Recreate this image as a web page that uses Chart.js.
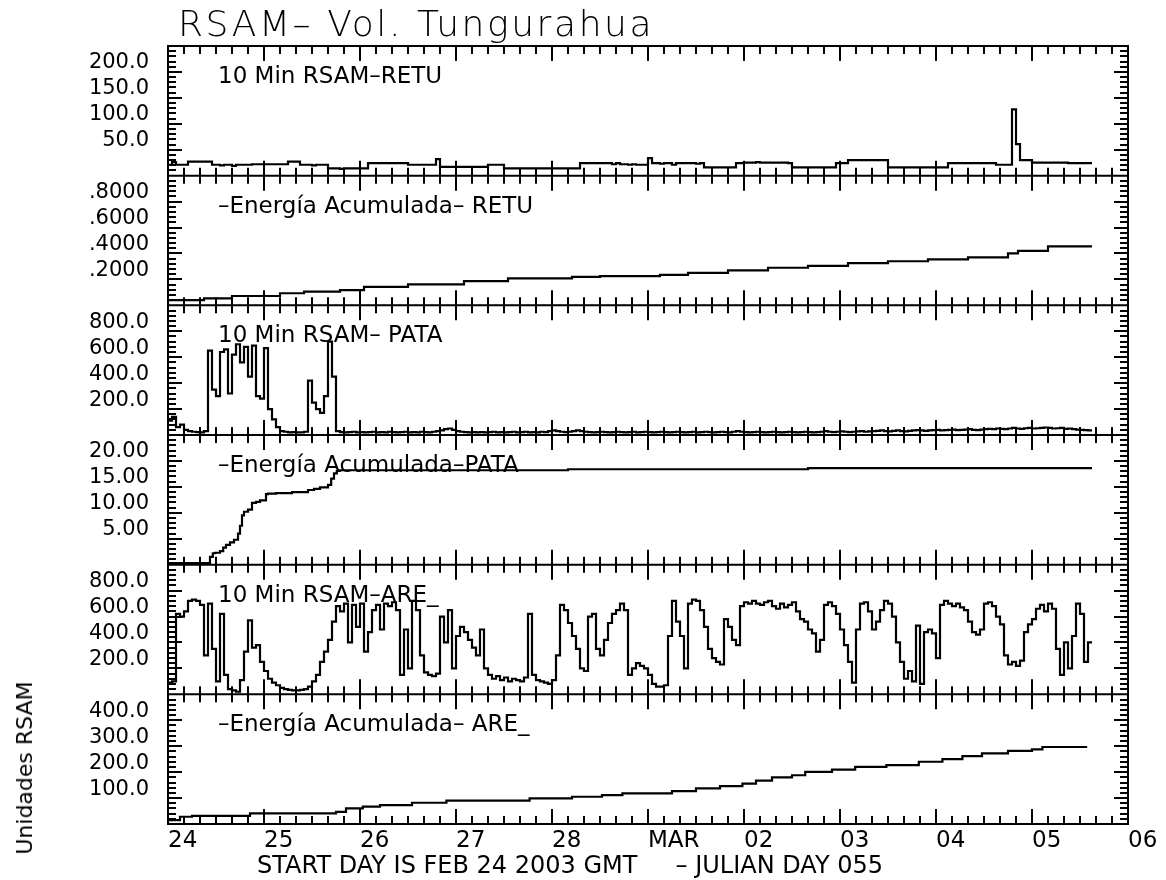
<!DOCTYPE html>
<html>
<head>
<meta charset="utf-8">
<title>RSAM - Vol. Tungurahua</title>
<script src="https://cdn.jsdelivr.net/npm/chart.js@4.4.1/dist/chart.umd.min.js"></script>
<style>
  html, body { margin: 0; padding: 0; background: #fff; }
  #wrap { position: relative; width: 1166px; height: 880px; overflow: hidden; }
  #rsam { position: absolute; left: 0; top: 0; }
  .txt { position: absolute; font-family: "DejaVu Sans", sans-serif; color: #000; white-space: pre; line-height: 1; }
</style>
</head>
<body>
<div id="wrap">
  <canvas id="rsam" width="1166" height="880"></canvas>
  <div class="txt" style="left:178px;top:6px;font-size:36px;letter-spacing:2.6px;font-weight:200">RSAM– Vol. Tungurahua</div>
  <div class="txt" style="left:257px;top:853px;font-size:24px">START DAY IS FEB 24 2003 GMT     – JULIAN DAY 055</div>
  <div class="txt" style="left:25px;top:768px;font-size:22px;transform:translate(-50%,-50%) rotate(-90deg)">Unidades RSAM</div>
</div>
<script>
// x axis: hours since Feb 24 2003 00:00 GMT, labels every 24 h
const dayLabels = ["24", "25", "26", "27", "28", "MAR", "02", "03", "04", "05", "06"];

// panels, top to bottom
const panelIds = ["y1", "y2", "y3", "y4", "y5", "y6"];
const panelLabels = [
  "10 Min RSAM–RETU",
  "–Energía Acumulada– RETU",
  "10 Min RSAM– PATA",
  "–Energía Acumulada–PATA",
  "10 Min RSAM–ARE_",
  "–Energía Acumulada– ARE_"
];
const yMax = [250, 1, 1000, 25, 1000, 500];
const yStep = [50, 0.2, 200, 5, 200, 100];
const yMinor = [10, 0.04, 40, 1, 40, 20];
const yDigits = [1, 4, 1, 2, 1, 1];

// 10 min RSAM, one value per hour from hour 0
const retuRsam = [
  21, 21, 26, 21, 21, 21, 27, 27, 27, 27,
  27, 27, 21, 21, 20, 21, 21, 19, 21, 21,
  21, 21, 22, 22, 22, 22, 22, 22, 22, 22,
  22, 27, 27, 27, 21, 21, 21, 20, 21, 21,
  21, 14, 14, 14, 13, 14, 14, 14, 14, 14,
  14, 24, 24, 24, 24, 24, 24, 24, 24, 24,
  24, 21, 21, 21, 21, 21, 21, 21, 32, 17,
  17, 17, 17, 17, 17, 17, 17, 17, 17, 17,
  17, 21, 21, 21, 21, 14, 14, 14, 14, 14,
  14, 14, 14, 14, 14, 14, 14, 14, 14, 14,
  14, 14, 14, 14, 24, 24, 24, 24, 24, 24,
  24, 24, 22, 24, 22, 22, 21, 22, 21, 21,
  21, 34, 24, 24, 23, 24, 24, 21, 24, 24,
  24, 24, 24, 23, 24, 16, 16, 16, 16, 16,
  16, 16, 16, 24, 24, 25, 25, 25, 26, 25,
  25, 25, 25, 25, 25, 25, 24, 16, 16, 16,
  16, 16, 16, 16, 16, 16, 16, 16, 24, 24,
  24, 30, 30, 30, 30, 30, 30, 30, 30, 30,
  30, 16, 16, 16, 16, 16, 16, 16, 16, 16,
  16, 16, 16, 16, 16, 16, 24, 24, 24, 24,
  24, 24, 24, 24, 24, 24, 24, 24, 21, 21,
  21, 21, 128, 61, 30, 30, 30, 25, 25, 25,
  25, 25, 25, 25, 25, 25, 24, 24, 24, 24,
  24, 24
];
const pataRsam = [
  150, 110, 140, 60, 80, 40, 30, 25, 22, 20,
  30, 650, 350, 300, 640, 660, 320, 620, 700, 560,
  680, 450, 690, 300, 280, 670, 200, 120, 60, 30,
  25, 20, 22, 20, 20, 25, 420, 250, 200, 170,
  300, 720, 450, 30, 22, 20, 22, 25, 20, 22,
  20, 22, 25, 20, 22, 20, 25, 22, 20, 22,
  25, 20, 22, 20, 25, 22, 20, 25, 30, 35,
  45, 50, 40, 30, 25, 22, 20, 22, 20, 22,
  20, 22, 25, 20, 22, 20, 22, 25, 20, 22,
  25, 20, 22, 20, 25, 22, 30, 35, 30, 25,
  22, 25, 30, 35, 30, 25, 22, 20, 22, 25,
  22, 20, 22, 25, 22, 20, 22, 25, 20, 22,
  25, 22, 20, 22, 25, 22, 20, 22, 25, 22,
  20, 22, 25, 20, 22, 25, 22, 20, 22, 25,
  22, 20, 25, 30, 25, 22, 20, 22, 25, 22,
  20, 22, 25, 22, 20, 22, 25, 22, 20, 22,
  25, 22, 20, 22, 25, 30, 25, 22, 25, 28,
  25, 22, 25, 28, 30, 25, 28, 30, 32, 35,
  30, 28, 32, 35, 30, 28, 32, 35, 38, 35,
  32, 35, 38, 40, 35, 38, 40, 42, 38, 40,
  42, 45, 40, 38, 42, 45, 48, 45, 50, 48,
  45, 50, 55, 50, 48, 52, 55, 50, 52, 55,
  58, 55, 50, 52, 55, 48, 50, 45, 42, 40,
  38, 35
];
const areRsam = [
  80, 90, 100, 620, 600, 640, 720, 730, 720, 690,
  300, 700, 350, 100, 620, 150, 40, 30, 20, 110,
  330, 570, 360, 380, 250, 180, 120, 90, 70, 50,
  40, 35, 30, 30, 35, 40, 60, 100, 150, 250,
  330, 420, 560, 680, 640, 700, 400, 690, 520, 700,
  330, 480, 650, 690, 500, 700, 680, 710, 650, 150,
  500, 200, 720, 650, 300, 170, 150, 140, 160, 600,
  400, 650, 200, 450, 520, 480, 420, 360, 300, 500,
  200, 150, 120, 140, 110, 130, 100, 120, 110, 100,
  130, 620, 150, 110, 100, 90, 80, 110, 300, 690,
  650, 550, 450, 350, 200, 180, 600, 620, 350, 300,
  420, 550, 620, 650, 700, 650, 150, 200, 240, 220,
  200, 150, 80, 60, 60, 70, 450, 720, 560, 450,
  200, 700, 730, 720, 650, 520, 350, 280, 250, 230,
  580, 520, 420, 380, 680, 710, 700, 720, 700, 690,
  710, 720, 680, 660, 700, 670, 690, 710, 640, 580,
  560, 500, 470, 330, 420, 690, 710, 680, 620, 500,
  380, 250, 90, 500, 700, 710, 640, 500, 560, 650,
  720, 700, 600, 400, 250, 120, 180, 100, 530, 80,
  480, 500, 470, 280, 690, 720, 700, 680, 700, 670,
  650, 560, 480, 460, 500, 700, 710, 680, 600, 540,
  300, 230, 250, 220, 260, 480, 540, 580, 660, 690,
  640, 700, 660, 350, 150, 400, 200, 450, 700, 620,
  250, 400
];

// cumulative energy: hour where each step starts, and its level
const retuCumHours = [0, 9, 16, 28, 34, 43, 49, 60, 74, 85, 101, 108, 123, 130, 140, 150, 160, 170, 180, 190, 200, 210, 212.5, 220, 231];
const retuCumValues = [0.01, 0.04, 0.054, 0.072, 0.093, 0.105, 0.118, 0.143, 0.162, 0.187, 0.208, 0.22, 0.225, 0.235, 0.25, 0.27, 0.29, 0.305, 0.325, 0.34, 0.355, 0.37, 0.4, 0.42, 0.455];
const pataCumHours = [0, 10.5, 11.2, 11.8, 13, 13.8, 14.5, 15.5, 16.5, 17.5, 18, 18.5, 19, 20, 21, 22, 23, 24.5, 25, 27, 31, 35, 36.5, 38, 40, 40.8, 41.5, 42.2, 43, 100, 160, 231];
const pataCumValues = [0, 0.3, 1.5, 2.2, 2.3, 2.6, 3.3, 3.8, 4.3, 4.8, 6, 7.5, 9.5, 10.2, 10.6, 11.9, 12.1, 12.4, 13.6, 13.7, 13.8, 14.0, 14.4, 14.6, 14.9, 15.4, 16.6, 17.6, 18.1, 18.2, 18.4, 18.6];
const areCumHours = [0, 3, 6, 20.5, 42, 44.5, 48.7, 53, 61, 69.6, 90.4, 101, 108.5, 113.6, 126, 132, 138, 143.6, 147, 151, 156, 159.3, 166, 171.8, 179.6, 187.7, 193.6, 198.6, 203.5, 210, 216, 218.6, 223.5, 229.8];
const areCumValues = [2, 15, 28, 31, 41, 47, 60, 67, 73, 82, 90, 99, 105, 111, 118, 127, 137, 146, 156, 167, 180, 188, 201, 210, 220, 227, 240, 250, 262, 272, 282, 288, 297, 297];

const hourly = (vals) => vals.map((v, i) => ({ x: i, y: v }));
const steps = (hours, vals) => hours.map((h, i) => ({ x: h, y: vals[i] }));

const lineStyle = { borderColor: "#000", borderWidth: 2.2, pointRadius: 0, stepped: "after", fill: false };

const panelFrames = {
  id: "panelFrames",
  afterDraw(chart) {
    const ctx = chart.ctx;
    const xs = chart.scales.x;
    const { left, right } = chart.chartArea;
    ctx.save();
    ctx.strokeStyle = "#000";
    ctx.lineWidth = 2;
    ctx.beginPath();
    panelIds.forEach((id, i) => {
      const ys = chart.scales[id];
      ctx.rect(left, ys.top, right - left, ys.bottom - ys.top);
      for (let h = 0; h <= 240; h += 4) {
        const px = Math.round(xs.getPixelForValue(h));
        const len = h % 24 === 0 ? 15 : 8;
        ctx.moveTo(px, ys.top); ctx.lineTo(px, ys.top + len);
        ctx.moveTo(px, ys.bottom); ctx.lineTo(px, ys.bottom - len);
      }
      const n = Math.round(yMax[i] / yMinor[i]);
      for (let k = 1; k < n; k++) {
        const py = Math.round(ys.getPixelForValue(k * yMinor[i]));
        const len = k % 5 === 0 ? 14 : 8;
        ctx.moveTo(left, py); ctx.lineTo(left + len, py);
        ctx.moveTo(right, py); ctx.lineTo(right - len, py);
      }
    });
    ctx.stroke();
    ctx.fillStyle = "#000";
    ctx.font = '23px "DejaVu Sans"';
    ctx.textBaseline = "alphabetic";
    panelIds.forEach((id, i) => {
      ctx.fillText(panelLabels[i], 218, chart.scales[id].top + 37);
    });
    ctx.restore();
  }
};

const scales = {
  x: {
    type: "linear", position: "bottom", min: 0, max: 240,
    grid: { display: false, drawTicks: false }, border: { display: false },
    ticks: {
      stepSize: 4, maxTicksLimit: 100, autoSkip: false, maxRotation: 0, minRotation: 0,
      align: "start", padding: 3, color: "#000", font: { family: "DejaVu Sans", size: 23 },
      callback: (v) => (v % 24 === 0 ? dayLabels[v / 24] : "")
    },
    afterFit: (s) => { s.height = 56; }
  }
};
panelIds.forEach((id, i) => {
  scales[id] = {
    type: "linear", position: "left", stack: "panels", stackWeight: 1, weight: 6 - i,
    min: 0, max: yMax[i],
    grid: { display: false, drawTicks: false }, border: { display: false },
    ticks: {
      stepSize: yStep[i], autoSkip: false, padding: 19, labelOffset: -9,
      color: "#000", font: { family: "DejaVu Sans", size: 21 },
      callback: (v) => {
        if (v <= 1e-9 || v >= yMax[i] - 1e-9) return "";
        const s = v.toFixed(yDigits[i]);
        return yDigits[i] === 4 ? s.replace(/^0/, "") : s;
      }
    },
    afterFit: (s) => { s.width = 168; }
  };
});

new Chart(document.getElementById("rsam"), {
  type: "line",
  data: {
    datasets: [
      { ...lineStyle, data: hourly(retuRsam), yAxisID: "y1" },
      { ...lineStyle, data: steps(retuCumHours, retuCumValues), yAxisID: "y2" },
      { ...lineStyle, data: hourly(pataRsam), yAxisID: "y3" },
      { ...lineStyle, data: steps(pataCumHours, pataCumValues), yAxisID: "y4" },
      { ...lineStyle, data: hourly(areRsam), yAxisID: "y5" },
      { ...lineStyle, data: steps(areCumHours, areCumValues), yAxisID: "y6" }
    ]
  },
  options: {
    responsive: false,
    animation: false,
    layout: { padding: { left: 0, right: 38, top: 46, bottom: 0 } },
    plugins: { legend: { display: false }, tooltip: { enabled: false } },
    scales: scales
  },
  plugins: [panelFrames]
});
</script>
</body>
</html>
